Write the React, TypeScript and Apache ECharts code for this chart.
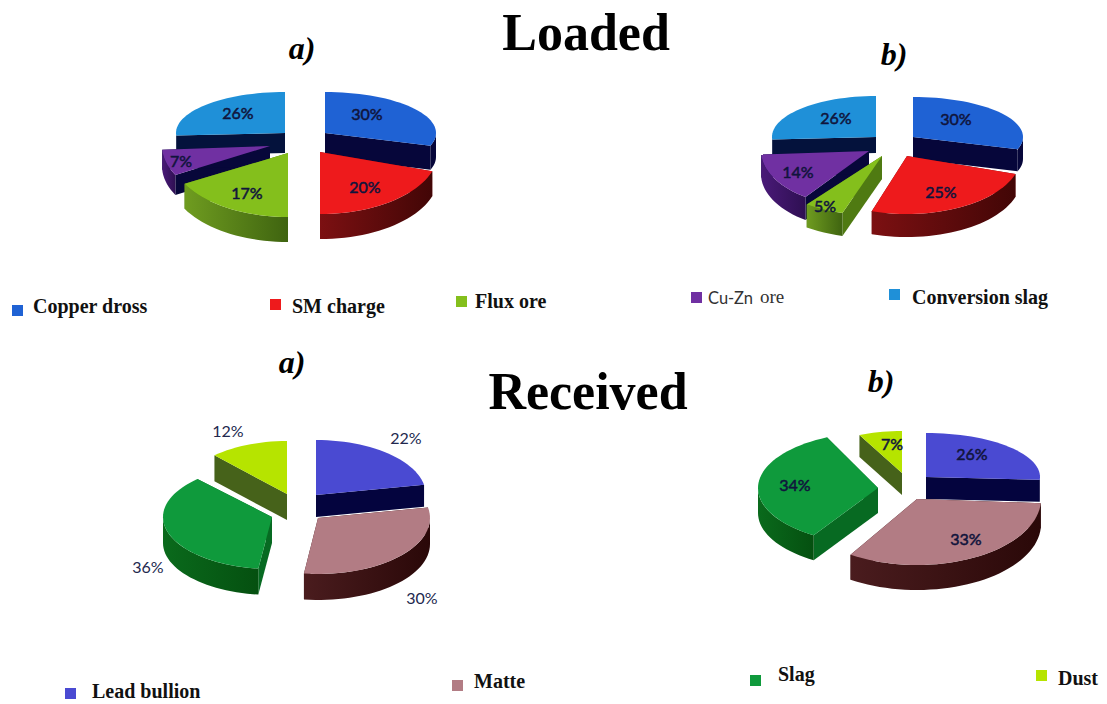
import React, { useEffect, useRef } from "react";
import * as echarts from "echarts";

// Mass shares (%) of each charge and product stream
const loadedLabels = ["Copper dross", "SM charge", "Flux ore", "Cu-Zn ore", "Conversion slag"];
const receivedLabels = ["Lead bullion", "Matte", "Slag", "Dust"];
const loadedAValues = [30, 20, 17, 7, 26];
const loadedBValues = [30, 25, 5, 14, 26];
const receivedAValues = [22, 30, 36, 12];
const receivedBValues = [26, 33, 34, 7];

const SERIF = '"Liberation Serif", serif';
const SANS = 'Lato, "Noto Sans", sans-serif';

type Skin = { top: string; radial: string; arc: [string, string] };

const loadedSkins: Skin[] = [
  { top: "#1f62d4", radial: "#06063a", arc: ["#06063a", "#06063a"] },
  { top: "#ee1a1c", radial: "#6a0a0c", arc: ["#7c1012", "#420606"] },
  { top: "#84bf1c", radial: "#4f7a12", arc: ["#6f9c20", "#3f6410"] },
  { top: "#7030a2", radial: "#07073a", arc: ["#4a1a78", "#2e0f52"] },
  { top: "#1f90d8", radial: "#04123c", arc: ["#04123c", "#04123c"] },
];
const receivedSkins: Skin[] = [
  { top: "#4a4ad2", radial: "#04043e", arc: ["#04043e", "#04043e"] },
  { top: "#b27c84", radial: "#3a1012", arc: ["#4a1c1e", "#2a0808"] },
  { top: "#0f9a3c", radial: "#076a22", arc: ["#0a6a1c", "#055010"] },
  { top: "#b6e400", radial: "#46621a", arc: ["#46621a", "#46621a"] },
];

// Per-slice placement: [apex x, apex y, rx, ry, depth]
type Geo = [number, number, number, number, number];
type PieDef = {
  name: string;
  values: number[];
  skins: Skin[];
  geo: Geo[];
  labelAt: [number, number][];
  labelColor: string;
  labelStroke: number;
  order: number[];
};

const pies: PieDef[] = [
  {
    name: "Loaded a",
    values: loadedAValues,
    skins: loadedSkins,
    geo: [
      [325, 133, 111, 41, 24],
      [320, 152, 118, 62, 25],
      [288, 153, 118, 64, 25],
      [270, 146, 108, 60, 20],
      [285, 133, 109, 41, 20],
    ],
    labelAt: [[367, 113], [365, 186], [247, 192], [181, 160], [238, 112]],
    labelColor: "#10143c",
    labelStroke: 0.5,
    order: [0, 4, 3, 2, 1],
  },
  {
    name: "Loaded b",
    values: loadedBValues,
    skins: loadedSkins,
    geo: [
      [913, 137, 110, 40, 22],
      [907, 156, 114, 58, 23],
      [882, 156, 128, 60, 23],
      [869, 151, 108, 57, 23],
      [876, 137, 104, 41, 16],
    ],
    labelAt: [[956, 118], [941, 191], [825, 205], [798, 171], [836, 117]],
    labelColor: "#10143c",
    labelStroke: 0.5,
    order: [0, 4, 3, 2, 1],
  },
  {
    name: "Received a",
    values: receivedAValues,
    skins: receivedSkins,
    geo: [
      [316, 495, 110, 55, 22],
      [318, 518, 112, 56, 26],
      [272, 517, 109, 52, 26],
      [287, 494, 106, 53, 26],
    ],
    labelAt: [[406, 437], [422, 597], [148, 566], [228, 430]],
    labelColor: "#22284e",
    labelStroke: 0,
    order: [0, 3, 2, 1],
  },
  {
    name: "Received b",
    values: receivedBValues,
    skins: receivedSkins,
    geo: [
      [926, 477, 114, 44, 22],
      [917, 499, 124, 66, 25],
      [878, 488, 120, 56, 25],
      [902, 473, 100, 42, 22],
    ],
    labelAt: [[972, 453], [966, 538], [795, 484], [892, 443]],
    labelColor: "#10143c",
    labelStroke: 0.5,
    order: [0, 3, 2, 1],
  },
];

const titles = [
  { text: "Loaded", x: 586, y: 32, font: `bold 52px ${SERIF}`, align: "center" },
  { text: "Received", x: 588, y: 391, font: `bold 52px ${SERIF}`, align: "center" },
  { text: "a)", x: 302, y: 48, font: `italic bold 32px ${SERIF}`, align: "center" },
  { text: "b)", x: 894, y: 54, font: `italic bold 32px ${SERIF}`, align: "center" },
  { text: "a)", x: 292, y: 362, font: `italic bold 32px ${SERIF}`, align: "center" },
  { text: "b)", x: 881, y: 381, font: `italic bold 32px ${SERIF}`, align: "center" },
];

// Hand-placed key: [label, marker colour, marker x, marker y, text x, text y]
const legendRows: [string, string, number, number, number, number][] = [
  [loadedLabels[0], loadedSkins[0].top, 12, 305, 33, 306],
  [loadedLabels[1], loadedSkins[1].top, 270, 299, 292, 306],
  [loadedLabels[2], loadedSkins[2].top, 456, 296, 475, 301],
  [loadedLabels[4], loadedSkins[4].top, 889, 289, 912, 297],
  [receivedLabels[0], receivedSkins[0].top, 65, 688, 92, 691],
  [receivedLabels[1], receivedSkins[1].top, 452, 680, 474, 681],
  [receivedLabels[2], receivedSkins[2].top, 750, 675, 778, 674],
  [receivedLabels[3], receivedSkins[3].top, 1036, 670, 1058, 678],
];

function rimPoint(g: Geo, deg: number, drop = 0): number[] {
  const a = (deg * Math.PI) / 180;
  return [g[0] + g[2] * Math.sin(a), g[1] - g[3] * Math.cos(a) + drop];
}

function rimArc(g: Geo, from: number, to: number, drop = 0): number[][] {
  const steps = Math.max(2, Math.ceil((to - from) / 3));
  const pts: number[][] = [];
  for (let i = 0; i <= steps; i++) pts.push(rimPoint(g, from + ((to - from) * i) / steps, drop));
  return pts;
}

function sliceRenderer(pie: PieDef) {
  const total = pie.values.reduce((a, b) => a + b, 0);
  const bounds: [number, number][] = [];
  let acc = 0;
  pie.values.forEach((v) => {
    bounds.push([(acc / total) * 360, ((acc + v) / total) * 360]);
    acc += v;
  });

  return (_params: any, api: any) => {
    const idx = api.value(1) as number;
    const value = api.value(0) as number;
    const g = pie.geo[idx];
    const skin = pie.skins[idx];
    const [start, end] = bounds[idx];
    const apex = [g[0], g[1]];
    const apexLow = [g[0], g[1] + g[4]];
    const children: any[] = [];

    [start, end].forEach((deg) => {
      children.push({
        type: "polygon",
        shape: { points: [apex, rimPoint(g, deg), rimPoint(g, deg, g[4]), apexLow] },
        style: { fill: skin.radial },
      });
    });

    const wallFrom = Math.max(start, 90);
    const wallTo = Math.min(end, 270);
    if (wallTo > wallFrom) {
      children.push({
        type: "polygon",
        shape: {
          points: [...rimArc(g, wallFrom, wallTo), ...rimArc(g, wallFrom, wallTo, g[4]).reverse()],
        },
        style: {
          fill: new echarts.graphic.LinearGradient(0, 0, 1, 0, [
            { offset: 0, color: skin.arc[0] },
            { offset: 1, color: skin.arc[1] },
          ]),
        },
      });
    }

    children.push({
      type: "polygon",
      shape: { points: [apex, ...rimArc(g, start, end)] },
      style: { fill: skin.top },
    });

    const [lx, ly] = pie.labelAt[idx];
    children.push({
      type: "text",
      x: lx,
      y: ly,
      z2: 20,
      style: {
        text: `${value}%`,
        fill: pie.labelColor,
        stroke: pie.labelStroke ? pie.labelColor : undefined,
        lineWidth: pie.labelStroke,
        font: `16px ${SANS}`,
        align: "center",
        verticalAlign: "middle",
      },
    });

    return { type: "group", children };
  };
}

export default function App() {
  const ref = useRef<HTMLDivElement>(null);

  useEffect(() => {
    if (!ref.current) return;
    const chart = echarts.init(ref.current, undefined, { renderer: "svg" });

    const graphic: any[] = [];
    titles.forEach((t) =>
      graphic.push({
        type: "text",
        x: t.x,
        y: t.y,
        style: { text: t.text, font: t.font, fill: "#000", align: t.align, verticalAlign: "middle" },
      }),
    );
    legendRows.forEach(([label, color, mx, my, tx, ty]) => {
      graphic.push({ type: "rect", shape: { x: mx, y: my, width: 11, height: 11 }, style: { fill: color } });
      graphic.push({
        type: "text",
        x: tx,
        y: ty,
        style: { text: label, font: `bold 20px ${SERIF}`, fill: "#111", align: "left", verticalAlign: "middle" },
      });
    });
    // The Cu-Zn entry is set in two typefaces
    graphic.push({ type: "rect", shape: { x: 691, y: 292, width: 11, height: 11 }, style: { fill: loadedSkins[3].top } });
    const [cuZn, ore] = loadedLabels[3].split(" ");
    graphic.push({
      type: "text",
      x: 708,
      y: 298,
      style: { text: cuZn, font: `16.5px ${SANS}`, fill: "#333", align: "left", verticalAlign: "middle" },
    });
    graphic.push({
      type: "text",
      x: 760,
      y: 296,
      style: { text: ore, font: `19px ${SERIF}`, fill: "#333", align: "left", verticalAlign: "middle" },
    });

    chart.setOption({
      animation: false,
      backgroundColor: "#ffffff",
      graphic,
      series: pies.map((pie) => ({
        type: "custom",
        name: pie.name,
        coordinateSystem: "none",
        silent: true,
        renderItem: sliceRenderer(pie),
        data: pie.order.map((i) => [pie.values[i], i]),
      })),
    });

    return () => chart.dispose();
  }, []);

  return <div ref={ref} style={{ position: "absolute", left: 0, top: 0, width: 1107, height: 704 }} />;
}
